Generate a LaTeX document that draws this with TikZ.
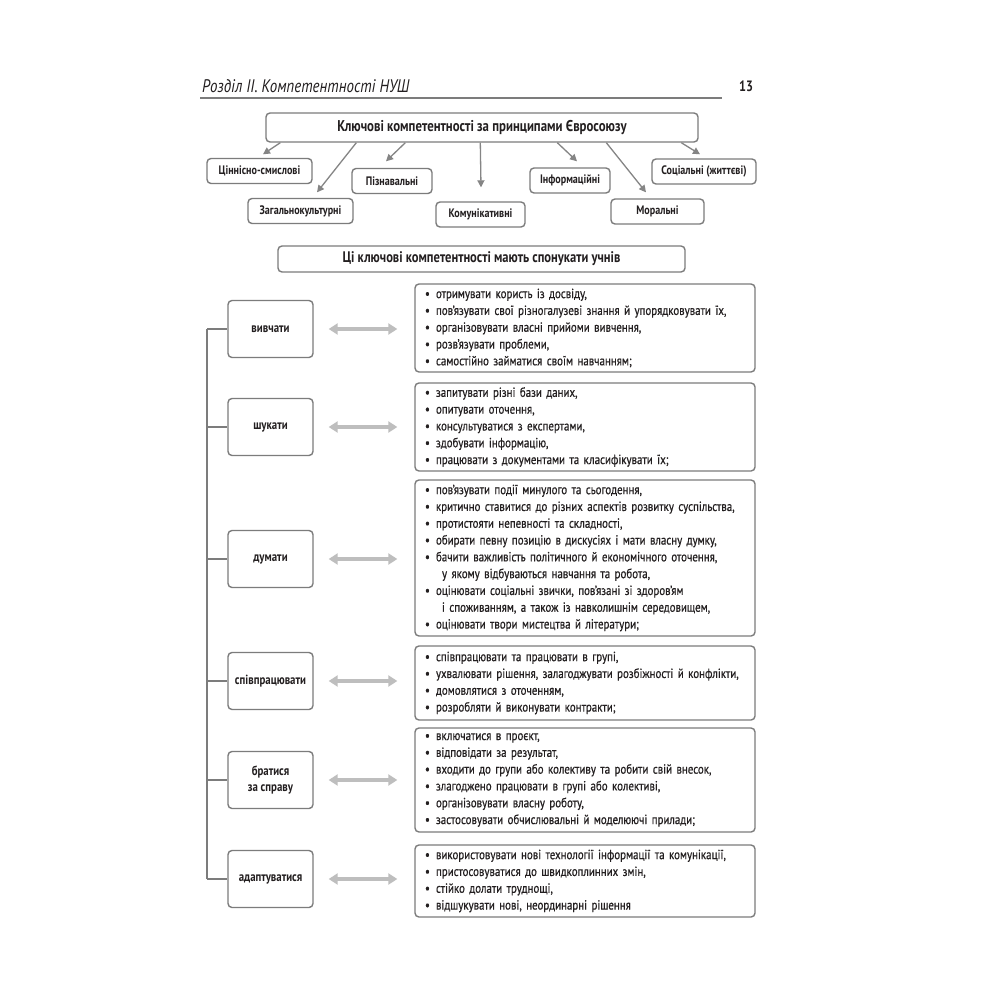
\documentclass[tikz,border=0pt]{standalone}
\usepackage{fontspec}
\setmainfont{PT Sans}[FakeStretch=0.82]
\newfontfamily\bodyf{PT Sans}[FakeStretch=0.82,FakeBold=0.6]
\usetikzlibrary{arrows.meta,calc}
\definecolor{boxgray}{HTML}{7C7C7C}
\definecolor{arrgray}{HTML}{858585}
\definecolor{dblgray}{HTML}{BEBEBE}
\definecolor{txt}{HTML}{231F20}
\newcommand{\itm}[1]{\makebox[11pt][l]{•}#1}
\newcommand{\cnt}[1]{\hspace*{17pt}#1}
\newcommand{\bodytxt}{\bodyf\fontsize{13.3}{16.8}\selectfont\spaceskip=2.8pt plus 1pt\relax}
\begin{document}
\begin{tikzpicture}[x=1pt,y=-1pt,
  every node/.style={text=txt},
  rbox/.style={draw=boxgray,line width=1.4pt,rounded corners=4pt,fill=white},
  cbox/.style={rbox,minimum height=25pt,inner sep=0pt,font=\fontsize{12.3}{14}\selectfont\bfseries},
  lbox/.style={rbox,minimum width=85pt,minimum height=57pt,inner sep=0pt,align=center,font=\fontsize{13.2}{16.5}\selectfont\bfseries},
  tbox/.style={rbox,inner xsep=10pt,inner ysep=0pt,text width=320pt,align=left,font=\bodytxt},
  tarr/.style={draw=arrgray,line width=1.3pt,-{Triangle[length=7pt,width=7pt]}},
  darr/.style={draw=dblgray,line width=4pt,{Triangle[length=9pt,width=11pt]}-{Triangle[length=9pt,width=11pt]}},
  tree/.style={draw=boxgray,line width=1.3pt}
]
\useasboundingbox[fill=white] (0,0) rectangle (1000,1000);

% header
\node[anchor=west,inner sep=0pt,font=\fontsize{18.2}{21}\selectfont\itshape] (hdr) at (202,86) {Розділ ІІ. Компетентності НУШ};
\node[anchor=center,inner sep=0pt,font=\fontsize{15}{17}\selectfont\bfseries] (pg) at (746,86) {13};
\draw[draw=boxgray,line width=1.3pt] (200,98) -- (722,98);

% top block
\node[rbox,minimum width=432pt,minimum height=29pt,inner sep=0pt,font=\fontsize{15.6}{18}\selectfont\bfseries] (top) at (482,127.5) {Ключові компетентності за принципами Євросоюзу};
\node[cbox,minimum width=105pt] (c1) at (259.5,171) {Ціннісно-смислові};
\node[cbox,minimum width=105pt] (c2) at (300.5,211) {Загальнокультурні};
\node[cbox,minimum width=80pt] (c3) at (392,181) {Пізнавальні};
\node[cbox,minimum width=89pt] (c4) at (480.5,214.5) {Комунікативні};
\node[cbox,minimum width=80pt] (c5) at (570,180.5) {Інформаційні};
\node[cbox,minimum width=93pt] (c6) at (657.5,211.5) {Моральні};
\node[cbox,minimum width=104pt] (c7) at (704,171.5) {Соціальні (життєві)};

\draw[tarr] ([xshift=15pt]top.south west) -- ($(c1.north)+(3.5,-3.5)$);
\draw[tarr] ([xshift=91pt]top.south west) -- ($(c2.north)+(16.5,-5.5)$);
\draw[tarr] ([xshift=140pt]top.south west) -- ($(c3.north)+(-6,-6.5)$);
\draw[tarr] ([xshift=215pt]top.south west) -- ($(c4.north)+(0.5,-14)$);
\draw[tarr] ([xshift=292pt]top.south west) -- ($(c5.north)+(7,-6)$);
\draw[tarr] ([xshift=341pt]top.south west) -- ($(c6.north)+(-11.5,-6)$);
\draw[tarr] ([xshift=416pt]top.south west) -- ($(c7.north)+(-4,-4)$);

% banner
\node[rbox,minimum width=407pt,minimum height=26pt,inner sep=0pt,font=\fontsize{15.3}{17}\selectfont\bfseries] (ban) at (481.5,259) {Ці ключові компетентності мають спонукати учнів};

% left boxes
\node[lbox] (l1) at (270.5,329) {вивчати};
\node[lbox] (l2) at (270.5,427) {шукати};
\node[lbox] (l3) at (270.5,559) {думати};
\node[lbox] (l4) at (270.5,681) {співпрацювати};
\node[lbox] (l5) at (270.5,780) {братися\\за справу};
\node[lbox] (l6) at (270.5,879) {адаптуватися};

% tree
\coordinate (tt) at (207,329);
\coordinate (tb) at (207,879);
\draw[tree] (tt) -- (tb);
\foreach \n in {l1,l2,l3,l4,l5,l6} \draw[tree] (\n.west -| tt) -- (\n.west);

% right boxes
\node[tbox,minimum height=88pt] (r1) at (585,328) {%
\itm{отримувати користь із досвіду,}\\
\itm{пов’язувати свої різногалузеві знання й упорядковувати їх,}\\
\itm{організовувати власні прийоми вивчення,}\\
\itm{розв’язувати проблеми,}\\
\itm{самостійно займатися своїм навчанням;}};
\node[tbox,minimum height=88pt] (r2) at (585,427) {%
\itm{запитувати різні бази даних,}\\
\itm{опитувати оточення,}\\
\itm{консультуватися з експертами,}\\
\itm{здобувати інформацію,}\\
\itm{працювати з документами та класифікувати їх;}};
\node[tbox,minimum height=156pt] (r3) at (585,558) {%
\itm{пов’язувати події минулого та сьогодення,}\\
\itm{критично ставитися до різних аспектів розвитку суспільства,}\\
\itm{протистояти непевності та складності,}\\
\itm{обирати певну позицію в дискусіях і мати власну думку,}\\
\itm{бачити важливість політичного й економічного оточення,}\\
\cnt{у якому відбуваються навчання та робота,}\\
\itm{оцінювати соціальні звички, пов’язані зі здоров’ям}\\
\cnt{і споживанням, а також із навколишнім середовищем,}\\
\itm{оцінювати твори мистецтва й літератури;}};
\node[tbox,minimum height=74pt] (r4) at (585,683) {%
\itm{співпрацювати та працювати в групі,}\\
\itm{ухвалювати рішення, залагоджувати розбіжності й конфлікти,}\\
\itm{домовлятися з оточенням,}\\
\itm{розробляти й виконувати контракти;}};
\node[tbox,minimum height=104pt] (r5) at (585,780) {%
\itm{включатися в проєкт,}\\
\itm{відповідати за результат,}\\
\itm{входити до групи або колективу та робити свій внесок,}\\
\itm{злагоджено працювати в групі або колективі,}\\
\itm{організовувати власну роботу,}\\
\itm{застосовувати обчислювальні й моделюючі прилади;}};
\node[tbox,minimum height=72pt] (r6) at (585,881) {%
\itm{використовувати нові технології інформації та комунікації,}\\
\itm{пристосовуватися до швидкоплинних змін,}\\
\itm{стійко долати труднощі,}\\
\itm{відшукувати нові, неординарні рішення}};

% double arrows
\foreach \i in {1,...,6} \draw[darr] ([xshift=15pt]l\i.east) -- ([xshift=-17pt]l\i.east -| r\i.west);
\end{tikzpicture}
\end{document}
